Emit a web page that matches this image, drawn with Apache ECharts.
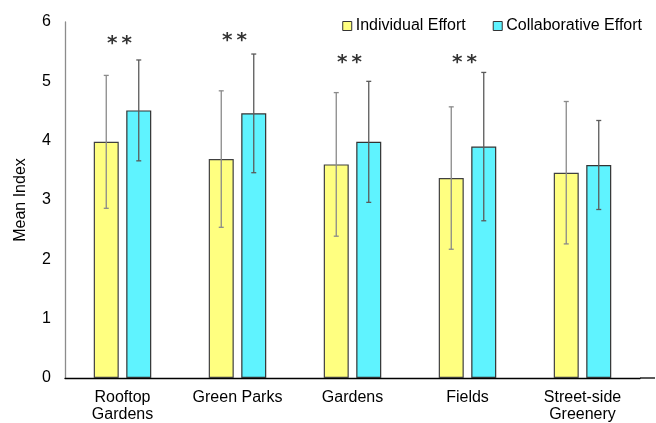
<!DOCTYPE html>
<html>
<head>
<meta charset="utf-8">
<script src="https://cdn.jsdelivr.net/npm/echarts@6/dist/echarts.min.js"></script>
<style>
  html, body { margin: 0; padding: 0; background: #fff; }
  #chart { width: 656px; height: 423px; }
</style>
</head>
<body>
<div id="chart"></div>
<script>
// Green space types and mean index scores (with standard deviations)
const categories = ['Rooftop\nGardens', 'Green Parks', 'Gardens', 'Fields', 'Street-side\nGreenery'];
const individualMean = [3.98, 3.69, 3.60, 3.37, 3.46];
const individualSd = [1.12, 1.15, 1.21, 1.20, 1.20];
const collaborativeMean = [4.51, 4.46, 3.98, 3.90, 3.59];
const collaborativeSd = [0.85, 1.00, 1.02, 1.25, 0.75];
// Significance markers: label and the height at which each is written
const sigLabels = ['*\u2009*', '*\u2009*', '*\u2009*', '*\u2009*', ''];
const sigHeights = [5.72, 5.77, 5.40, 5.40, null];
const yTicks = [0, 1, 2, 3, 4, 5, 6];

const FONT = "'Liberation Sans', Arial, sans-serif";
const BAR_W = 25;
const BAR_GAP_PX = 7.5;
const HALF_SPAN = (BAR_W + BAR_GAP_PX) / 2;

function errorSeries(name, means, sds, side, color) {
  const data = means.map((m, i) => [i, m - sds[i], m + sds[i]]);
  return {
    name: name + ' SD',
    type: 'custom',
    z: 5,
    silent: true,
    data: data,
    renderItem: function (params, api) {
      const idx = api.value(0);
      const lo = api.coord([idx, api.value(1)]);
      const hi = api.coord([idx, api.value(2)]);
      const x = lo[0] + side * HALF_SPAN;
      const cap = 2.5;
      const style = { stroke: color, lineWidth: 1.3 };
      return {
        type: 'group',
        children: [
          { type: 'line', shape: { x1: x, y1: lo[1], x2: x, y2: hi[1] }, style: style },
          { type: 'line', shape: { x1: x - cap, y1: hi[1], x2: x + cap, y2: hi[1] }, style: style },
          { type: 'line', shape: { x1: x - cap, y1: lo[1], x2: x + cap, y2: lo[1] }, style: style }
        ]
      };
    }
  };
}

const chart = echarts.init(document.getElementById('chart'), null, { renderer: 'canvas' });

const gridLeft = 65, gridRight = 16, gridTop = 22, gridBottom = 45;

chart.setOption({
  animation: false,
  backgroundColor: '#ffffff',
  textStyle: { fontFamily: FONT },
  grid: { left: gridLeft, right: gridRight, top: gridTop, bottom: gridBottom, containLabel: false },
  legend: {
    data: ['Individual Effort', 'Collaborative Effort'],
    right: 9,
    top: 13,
    itemWidth: 9,
    itemHeight: 9,
    itemGap: 27,
    icon: 'rect',
    itemStyle: { borderColor: '#333333', borderWidth: 1 },
    textStyle: { fontFamily: FONT, fontSize: 16, color: '#000000', padding: [0, 0, 0, -1] }
  },
  xAxis: {
    type: 'category',
    data: categories,
    axisLine: { show: true, lineStyle: { color: '#000000', width: 1.3 } },
    axisTick: { show: false },
    axisLabel: { fontFamily: FONT, fontSize: 16, color: '#000000', margin: 11, lineHeight: 17, interval: 0 },
    splitLine: { show: false }
  },
  yAxis: {
    type: 'value',
    min: yTicks[0],
    max: yTicks[yTicks.length - 1],
    interval: 1,
    name: 'Mean Index',
    nameLocation: 'middle',
    nameGap: 36,
    nameTextStyle: { fontFamily: FONT, fontSize: 16, color: '#000000' },
    axisLine: { show: true, lineStyle: { color: '#8c8c8c', width: 1.3 } },
    axisTick: { show: false },
    axisLabel: { fontFamily: FONT, fontSize: 16, color: '#000000', margin: 14 },
    splitLine: { show: false }
  },
  series: [
    {
      name: 'Individual Effort',
      type: 'bar',
      barWidth: BAR_W,
      barGap: (BAR_GAP_PX / BAR_W * 100) + '%',
      data: individualMean,
      itemStyle: { color: '#ffff80', borderColor: '#404040', borderWidth: 1.2 }
    },
    {
      name: 'Collaborative Effort',
      type: 'bar',
      barWidth: BAR_W,
      data: collaborativeMean,
      itemStyle: { color: '#5ff3ff', borderColor: '#333333', borderWidth: 1.2 }
    },
    errorSeries('Individual Effort', individualMean, individualSd, -1, '#8a8a8a'),
    errorSeries('Collaborative Effort', collaborativeMean, collaborativeSd, 1, '#5a5a5a'),
    {
      name: 'Significance',
      type: 'scatter',
      symbolSize: 0,
      itemStyle: { color: 'rgba(0,0,0,0)' },
      silent: true,
      z: 6,
      data: sigHeights.map((h, i) => (h == null ? null : [i, h])).filter(d => d),
      label: {
        show: true,
        position: 'inside',
        offset: [-3, 5],
        fontFamily: "'DejaVu Sans', sans-serif",
        fontWeight: 'bold',
        fontSize: 20,
        color: '#000000',
        formatter: p => sigLabels[p.data[0]]
      }
    }
  ],
  graphic: [
    {
      // extend the baseline to the right edge of the plot frame
      type: 'line',
      shape: { x1: 656 - gridRight, y1: 423 - gridBottom, x2: 655, y2: 423 - gridBottom },
      style: { stroke: '#000000', lineWidth: 1.3 },
      z: 10
    }
  ]
});
</script>
</body>
</html>
